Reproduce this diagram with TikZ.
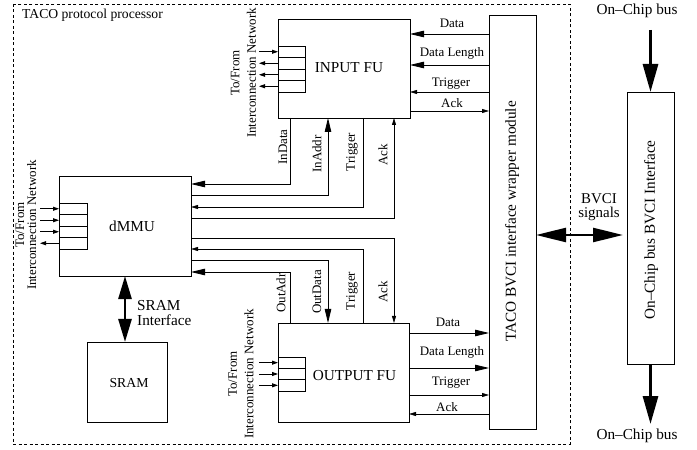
\documentclass[tikz,border=0pt]{standalone}
\usepackage{fontspec}
\setmainfont{Liberation Serif}
\usetikzlibrary{arrows.meta}
\begin{document}
\begin{tikzpicture}[x=1bp,y=-1bp,
  box/.style={draw, line width=0.8bp, inner sep=0pt, outer sep=0pt},
  cell/.style={draw, line width=0.8bp, minimum width=27bp, minimum height=11.5bp, inner sep=0pt, outer sep=0pt},
  lab/.style={font=\fontsize{13}{14}\selectfont, inner sep=0pt},
  biglab/.style={font=\fontsize{15.3}{15}\selectfont, inner sep=0pt},
  sig/.style={line width=0.8bp},
  bigtip/.style={-{Triangle[length=14bp,width=6.5bp]}},
  smalltip/.style={-{Triangle[length=7bp,width=4bp]}},
  ctip/.style={-{Triangle[length=6bp,width=4bp]}},
  fat/.style={line width=2.6bp}
]
\useasboundingbox (0,0) rectangle (697,450);

% frame
\draw[line width=0.7bp, dash pattern=on 3bp off 2.5bp] (13,4) rectangle (570,444);
\node[lab, anchor=west, font=\fontsize{13.7}{15}\selectfont] (title) at (22,15) {TACO protocol processor};

% main boxes
\node[box, minimum width=132bp, minimum height=99bp] (infu) at (344,68.5) {};
\node[biglab] (infulab) at (349,68) {INPUT FU};
\node[box, minimum width=131bp, minimum height=99bp] (outfu) at (343.5,372.5) {};
\node[biglab] (outfulab) at (354.5,376) {OUTPUT FU};
\node[box, minimum width=132bp, minimum height=100bp] (dmmu) at (125,226) {};
\node[biglab] (dmmulab) at (132,226) {dMMU};
\node[box, minimum width=80bp, minimum height=80bp] (sram) at (127,382) {};
\node[lab, font=\fontsize{13.8}{15}\selectfont] (sramlab) at (129,383) {SRAM};
\node[box, minimum width=47bp, minimum height=414bp] (wrap) at (512.5,222) {};
\node[biglab, rotate=90] (wraplab) at (512,221.5) {TACO BVCI interface wrapper module};
\node[box, minimum width=47bp, minimum height=272bp] (obus) at (650.5,228) {};
\node[biglab, rotate=90] (obuslab) at (651,230) {On–Chip bus BVCI Interface};

% register cells
\node[cell] (ic1) at (291.5,51.75) {};
\node[cell] (ic2) at (291.5,63.25) {};
\node[cell] (ic3) at (291.5,74.75) {};
\node[cell] (ic4) at (291.5,86.25) {};
\node[cell, minimum width=28bp] (dc1) at (73,208.75) {};
\node[cell, minimum width=28bp] (dc2) at (73,220.25) {};
\node[cell, minimum width=28bp] (dc3) at (73,231.75) {};
\node[cell, minimum width=28bp] (dc4) at (73,243.25) {};
\node[cell, minimum height=11.33bp] (oc1) at (291.5,362.67) {};
\node[cell, minimum height=11.33bp] (oc2) at (291.5,374) {};
\node[cell, minimum height=11.33bp] (oc3) at (291.5,385.33) {};

\draw[sig,ctip] (ic1.west) ++(-19,0) -- (ic1.west);
\draw[sig,ctip] (ic2.west) -- ++(-19,0);
\draw[sig,ctip] (ic3.west) -- ++(-19,0);
\draw[sig,ctip] (ic4.west) -- ++(-19,0);
\draw[sig,ctip] (dc1.west) ++(-19,0) -- (dc1.west);
\draw[sig,ctip] (dc2.west) ++(-19,0) -- (dc2.west);
\draw[sig,ctip] (dc3.west) ++(-19,0) -- (dc3.west);
\draw[sig,ctip] (dc4.west) -- ++(-19,0);
\draw[sig,ctip] (oc1.west) ++(-19,0) -- (oc1.west);
\draw[sig,ctip] (oc2.west) ++(-19,0) -- (oc2.west);
\draw[sig,ctip] (oc3.west) ++(-19,0) -- (oc3.west);

% interconnection labels
\node[lab, rotate=90, align=center, font=\fontsize{13}{16.5}\selectfont] (inetin) at (243.5,73) {To/From\\Interconnection Network};
\node[lab, rotate=90, align=center, font=\fontsize{13}{12}\selectfont] (inetd) at (26,225) {To/From\\Interconnection Network};
\node[lab, rotate=90, align=center, font=\fontsize{13}{16.5}\selectfont] (ineto) at (241,374) {To/From\\Interconnection Network};

% level coordinates
\coordinate (xA) at (290,0);
\coordinate (xB) at (328,0);
\coordinate (xC) at (363,0);
\coordinate (xD) at (394,0);
\coordinate (yA) at (0,184);
\coordinate (yB) at (0,195);
\coordinate (yC) at (0,207);
\coordinate (yD) at (0,218);
\coordinate (yE) at (0,238);
\coordinate (yF) at (0,249);
\coordinate (yG) at (0,260);
\coordinate (yH) at (0,272);
\coordinate (yi1) at (0,34);
\coordinate (yi2) at (0,65);
\coordinate (yi3) at (0,92);
\coordinate (yi4) at (0,111);
\coordinate (yo1) at (0,333);
\coordinate (yo2) at (0,368);
\coordinate (yo3) at (0,395);
\coordinate (yo4) at (0,414);
\coordinate (yBV) at (0,235);
\coordinate (topend) at (0,30);
\coordinate (botend) at (0,424);

% dMMU <-> FU connections
\draw[sig,bigtip] (infu.south -| xA) |- (dmmu.east |- yA);
\draw[sig,bigtip] (dmmu.east |- yB) -| (infu.south -| xB);
\draw[sig,smalltip] (infu.south -| xC) |- (dmmu.east |- yC);
\draw[sig,smalltip] (dmmu.east |- yD) -| (infu.south -| xD);
\draw[sig,smalltip] (dmmu.east |- yE) -| (outfu.north -| xD);
\draw[sig,smalltip] (outfu.north -| xC) |- (dmmu.east |- yF);
\draw[sig,bigtip] (dmmu.east |- yG) -| (outfu.north -| xB);
\draw[sig,bigtip] (outfu.north -| xA) |- (dmmu.east |- yH);

\node[lab, rotate=90] (l1) at (283,147) {InData};
\node[lab, rotate=90] (l2) at (317,154) {InAddr};
\node[lab, rotate=90] (l3) at (352,152) {Trigger};
\node[lab, rotate=90] (l4) at (383,155) {Ack};
\node[lab, rotate=90] (l5) at (281,293) {OutAdr};
\node[lab, rotate=90] (l6) at (317,292) {OutData};
\node[lab, rotate=90] (l7) at (352,291) {Trigger};
\node[lab, rotate=90] (l8) at (383,292) {Ack};

% wrapper <-> FU connections
\draw[sig,bigtip] (wrap.west |- yi1) -- (infu.east |- yi1);
\draw[sig,bigtip] (wrap.west |- yi2) -- (infu.east |- yi2);
\draw[sig,smalltip] (wrap.west |- yi3) -- (infu.east |- yi3);
\draw[sig,smalltip] (infu.east |- yi4) -- (wrap.west |- yi4);
\draw[sig,bigtip] (outfu.east |- yo1) -- (wrap.west |- yo1);
\draw[sig,bigtip] (outfu.east |- yo2) -- (wrap.west |- yo2);
\draw[sig,smalltip] (outfu.east |- yo3) -- (wrap.west |- yo3);
\draw[sig,smalltip] (wrap.west |- yo4) -- (outfu.east |- yo4);

\node[lab] (r1) at (452,23) {Data};
\node[lab] (r2) at (452,53) {Data Length};
\node[lab] (r3) at (451,84) {Trigger};
\node[lab] (r4) at (452,103) {Ack};
\node[lab] (r5) at (448,322) {Data};
\node[lab] (r6) at (452,352) {Data Length};
\node[lab] (r7) at (451,383) {Trigger};
\node[lab] (r8) at (447,407) {Ack};

% SRAM interface
\draw[fat, {Triangle[length=23bp,width=13bp]}-{Triangle[length=23bp,width=13bp]}] (dmmu.south) -- (sram.north -| dmmu.south);
\node[biglab, anchor=west, align=left] (sramif) at (137,313.5) {SRAM\\Interface};

% BVCI
\draw[line width=2.4bp, {Triangle[length=30bp,width=14bp]}-{Triangle[length=30bp,width=14bp]}, shorten >=4bp] (wrap.east |- yBV) -- (obus.west |- yBV);
\node[biglab, align=center, font=\fontsize{15}{14}\selectfont] (bvcilab) at (599,207) {BVCI\\signals};

% on-chip bus
\node[biglab] (bustop) at (637,11) {On–Chip bus};
\node[biglab] (busbot) at (637,436) {On–Chip bus};
\draw[line width=3bp, -{Triangle[length=28bp,width=15bp]}] (obus.north |- topend) -- (obus.north);
\draw[line width=3bp, -{Triangle[length=28bp,width=15bp]}] (obus.south) -- (obus.south |- botend);
\end{tikzpicture}
\end{document}
